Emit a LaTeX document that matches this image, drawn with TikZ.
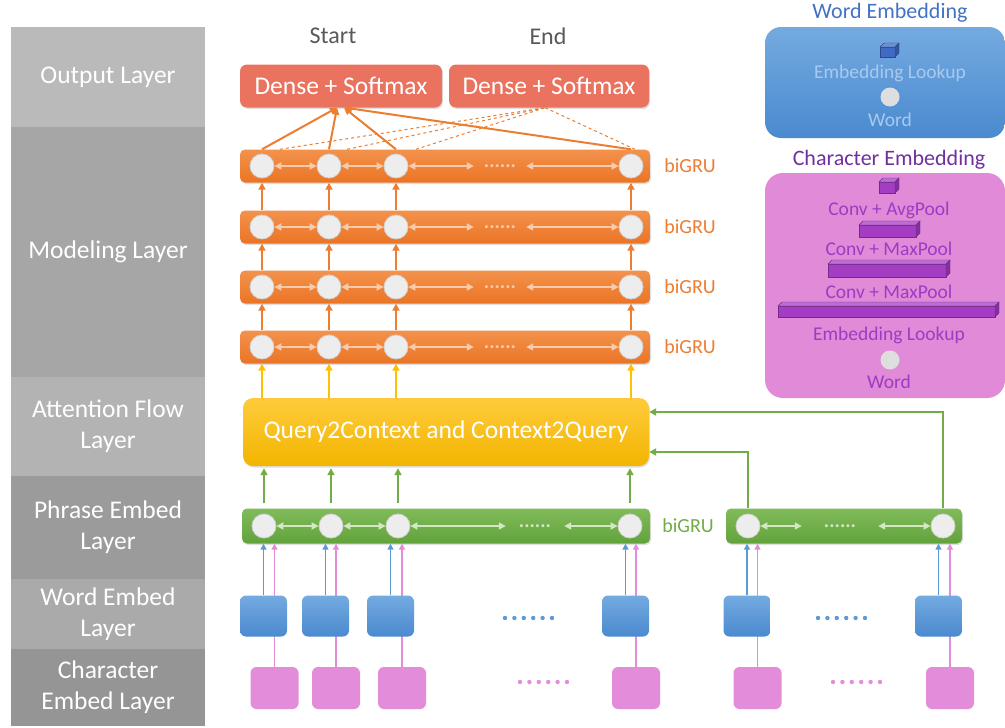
\documentclass[tikz,border=0pt]{standalone}
\usepackage{fontspec}
\setmainfont{Carlito}
\usetikzlibrary{positioning,arrows.meta,shadows,calc}

\definecolor{bandA}{HTML}{BABABA}
\definecolor{bandB}{HTML}{A6A6A6}
\definecolor{bandC}{HTML}{B3B3B3}
\definecolor{bandD}{HTML}{9B9B9B}
\definecolor{bandE}{HTML}{AAAAAA}
\definecolor{bandF}{HTML}{959595}
\definecolor{orng}{HTML}{ED7D31}
\definecolor{orngA}{HTML}{F3924C}
\definecolor{orngB}{HTML}{EB7425}
\definecolor{orngL}{HTML}{F8CBAD}
\definecolor{grn}{HTML}{70AD47}
\definecolor{grnA}{HTML}{80BC5A}
\definecolor{grnB}{HTML}{62A23B}
\definecolor{grnL}{HTML}{D2E8C2}
\definecolor{yel}{HTML}{FFC000}
\definecolor{yelA}{HTML}{FFCB3C}
\definecolor{yelB}{HTML}{F2B500}
\definecolor{blu}{HTML}{5B9BD5}
\definecolor{bluA}{HTML}{74AAE0}
\definecolor{bluB}{HTML}{4A8ACF}
\definecolor{bluT}{HTML}{A9C9EE}
\definecolor{bluC}{HTML}{3F6AC6}
\definecolor{pnk}{HTML}{E38DDA}
\definecolor{pnkB}{HTML}{E08AD8}
\definecolor{slm}{HTML}{E9735F}
\definecolor{ttl}{HTML}{4472C4}
\definecolor{prp}{HTML}{7030A0}
\definecolor{prpT}{HTML}{9C3CC4}
\definecolor{prpC}{HTML}{A43CC4}
\definecolor{cellc}{HTML}{EDEDED}
\definecolor{lbl}{HTML}{595959}

\newcommand{\embslab}[5]{%
  \filldraw[draw=#5!70!black, fill=#5] (#1,#2+4) rectangle (#3-4,#4);
  \filldraw[draw=#5!70!black, fill=#5!75!white] (#1,#2+4) -- (#1+4,#2) -- (#3,#2) -- (#3-4,#2+4) -- cycle;
  \filldraw[draw=#5!70!black, fill=#5!80!black] (#3-4,#2+4) -- (#3,#2) -- (#3,#4-4) -- (#3-4,#4) -- cycle;}

\begin{document}
\begin{tikzpicture}
[
x=1pt, y=-1pt,
>={Triangle[length=7pt,width=7pt]},
sdw/.style={drop shadow={shadow xshift=1pt, shadow yshift=-1.5pt, opacity=.25}},
band/.style={minimum width=194pt, inner sep=0pt, outer sep=0pt, text=white, align=center, font=\fontsize{25.5}{31}\selectfont},
dense/.style={fill=slm, rounded corners=7pt, minimum height=43pt, text=white, font=\fontsize{25.5}{28}\selectfont, sdw},
obar/.style={top color=orngA, bottom color=orngB, rounded corners=5pt, minimum width=410pt, minimum height=33pt, sdw},
gbar/.style={top color=grnA, bottom color=grnB, rounded corners=5pt, minimum height=35pt, sdw},
gru/.style={circle, fill=cellc, draw=black!18, line width=.8pt, minimum size=24pt, inner sep=0pt},
rowdots/.style={inner ysep=0pt, font=\fontsize{20}{20}\selectfont\bfseries},
biarr/.style={<->, line width=1.8pt},
upa/.style={->, line width=2pt},
upb/.style={-{Triangle[length=6pt,width=6pt]}, line width=1.8pt},
wbox/.style={top color=bluA, bottom color=bluB, rounded corners=6pt, minimum width=47pt, minimum height=41pt},
cbox/.style={fill=pnk, rounded corners=6pt, minimum width=48pt, minimum height=42pt},
gbtxt/.style={font=\fontsize{20}{20}\selectfont},
embtxt/.style={font=\fontsize{19.5}{19.5}\selectfont},
ttltxt/.style={font=\fontsize{22}{22}\selectfont}
]
\path[fill=white] (0,0) rectangle (1005,728);

% layer names
\node[band, fill=bandA, minimum height=100pt] (lout) at (108,77) {Output Layer};
\node[band, fill=bandB, minimum height=250pt, below=0pt of lout] (lmod) {Modeling Layer};
\node[band, fill=bandC, minimum height=99pt, below=0pt of lmod] (latt) {Attention Flow\\Layer};
\node[band, fill=bandD, minimum height=103pt, below=0pt of latt] (lphr) {Phrase Embed\\Layer};
\node[band, fill=bandE, minimum height=70pt, below=0pt of lphr] (lwrd) {Word Embed\\Layer};
\node[band, fill=bandF, minimum height=77pt, below=0pt of lwrd] (lchr) {Character\\Embed Layer};

% output
\node[dense, minimum width=202pt] (st) at (341,86) {Dense + Softmax};
\node[dense, minimum width=200pt] (en) at (549,86) {Dense + Softmax};
\node[font=\fontsize{24}{24}\selectfont, text=lbl] (stlbl) at (333,36) {Start};
\node[font=\fontsize{24}{24}\selectfont, text=lbl] (enlbl) at (548,36) {End};

% modeling
\foreach \r/\yy in {1/166,2/227,3/287,4/347}{
  \node[obar] (row\r) at (445,\yy) {};
  \foreach \c/\xx in {1/262,2/329,3/396,4/631}
    \node[gru] (m\r\c) at (\xx,\yy) {};
  \node[rowdots, text=orngL, inner xsep=10pt] (md\r) at (500,\yy) {......};
  \draw[biarr, orngL] (m\r1) -- (m\r2);
  \draw[biarr, orngL] (m\r2) -- (m\r3);
  \draw[biarr, orngL] (m\r3) -- (md\r);
  \draw[biarr, orngL] (md\r) -- (m\r4);
  \node[gbtxt, text=orng] (gl\r) at (690,\yy) {biGRU};
}
\foreach \r/\s in {1/2,2/3,3/4}
  \foreach \c in {1,...,4}
    \draw[upa, orng] (m\s\c |- row\s.north) -- (m\s\c |- row\r.south);

\foreach \c/\dx in {1/-4,2/-4,3/3,4/4}
  \draw[upa, orng] (m1\c |- row1.north) -- ($(st.south)+(\dx,0)$);
\foreach \c/\dx in {1/18,2/18,3/20,4/4}
  \draw[orng, dashed, line width=1pt] ($(m1\c |- row1.north)+(\dx,0)$) -- ($(en.south)+(-4,0)$);

% attention
\node[top color=yelA, bottom color=yelB, rounded corners=10pt, minimum width=406pt, minimum height=68pt,
  text=white, font=\fontsize{25.5}{28}\selectfont, sdw] (att) at (446,432) {Query2Context and Context2Query};
\foreach \c in {1,...,4}
  \draw[upa, yel] (m4\c |- att.north) -- (m4\c |- row4.south);

% phrase embed
\node[gbar, minimum width=408pt] (prow) at (446,526) {};
\node[gbar, minimum width=236pt] (qrow) at (844,526) {};
\foreach \c/\xx in {1/264,2/331,3/398,4/630}
  \node[gru] (p\c) at (\xx,526) {};
\node[gru] (q1) at (748,526) {};
\node[gru] (q2) at (943,526) {};
\node[rowdots, text=grnL, inner xsep=13pt] (pd) at (535,526) {......};
\node[rowdots, text=grnL, inner xsep=22pt] (qd) at (840,526) {......};
\draw[biarr, grnL] (p1) -- (p2);
\draw[biarr, grnL] (p2) -- (p3);
\draw[biarr, grnL] (p3) -- (pd);
\draw[biarr, grnL] (pd) -- (p4);
\draw[biarr, grnL] (q1) -- (qd);
\draw[biarr, grnL] (qd) -- (q2);
\node[gbtxt, text=grn] (gp) at (688,526) {biGRU};

\foreach \c in {1,...,4}
  \draw[upa, grn, shorten <=5pt, shorten >=2pt] (p\c |- prow.north) -- (p\c |- att.south);
\draw[upa, grn] (q1 |- qrow.north) |- ($(att.east)+(0,20)$);
\draw[upa, grn] (q2 |- qrow.north) |- ($(att.east)+(0,-20)$);

% word and character embed
\foreach \t/\wx/\cx in {1/263.5/274.5,2/325.5/336,3/390.5/402,4/625.5/636,5/747/757.5,6/938.5/950}{
  \node[cbox] (c\t) at (\cx,688) {};
  \draw[upb, pnk] (c\t) -- (c\t |- prow.south);
  \node[wbox] (w\t) at (\wx,616) {};
  \draw[upb, blu] (w\t) -- (w\t |- prow.south);
}
\foreach \k in {0,...,5}{
  \fill[blu] (505+9.4*\k,618) circle (2.2pt);
  \fill[pnk] (520+9.4*\k,682) circle (2.2pt);
  \fill[blu] (818+9.4*\k,618) circle (2.2pt);
  \fill[pnk] (833+9.4*\k,682) circle (2.2pt);
}

% word embedding legend
\node[ttltxt, text=ttl] (wembt) at (890,13) {Word Embedding};
\node[top color=bluA, bottom color=bluB, rounded corners=16pt, minimum width=240pt, minimum height=111pt] (wemb) at (885,82.5) {};
\embslab{880}{43}{899}{57}{bluC}
\node[embtxt, text=bluT] (wlook) at (890,73) {Embedding Lookup};
\node[gru, minimum size=19pt, fill=black!13, draw=none] (wword) at (890,97) {};
\node[embtxt, text=bluT] (wwt) at (890,120) {Word};

% character embedding legend
\node[ttltxt, text=prp] (cembt) at (889,160) {Character Embedding};
\node[fill=pnkB, rounded corners=18pt, minimum width=240pt, minimum height=225pt] (cemb) at (885,285.5) {};
\embslab{879}{178}{899}{193}{prpC}
\node[embtxt, text=prpT] (cavg) at (889,210) {Conv + AvgPool};
\embslab{859}{221}{920}{237}{prpC}
\node[embtxt, text=prpT] (cmax1) at (889,249) {Conv + MaxPool};
\embslab{828}{260}{950}{277}{prpC}
\node[embtxt, text=prpT] (cmax2) at (889,292) {Conv + MaxPool};
\embslab{778}{302}{999}{317}{prpC}
\node[embtxt, text=prpT] (clook) at (889,335) {Embedding Lookup};
\node[gru, minimum size=19pt, fill=black!13, draw=none] (cword) at (890,360) {};
\node[embtxt, text=prpT] (cwt) at (889,382) {Word};
\end{tikzpicture}
\end{document}
